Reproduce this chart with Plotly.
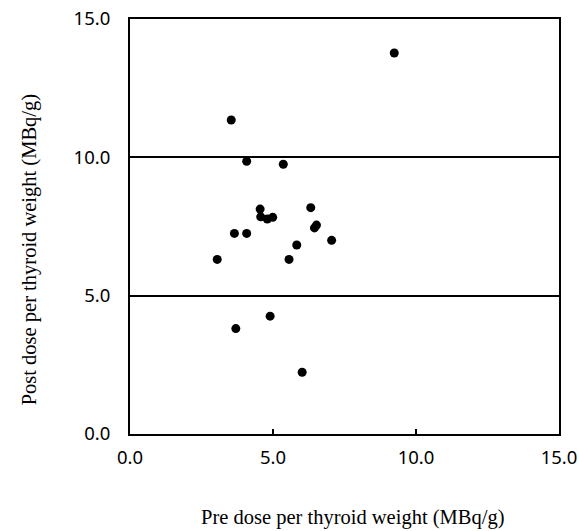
import plotly.graph_objects as go

# pre dose vs post dose per thyroid weight (MBq/g)
pre_dose = [3.54, 4.08, 5.36, 4.55, 4.57, 4.80, 4.99, 6.32, 6.45, 6.52,
            3.65, 4.08, 7.05, 5.83, 3.05, 5.56, 4.90, 3.70, 6.02, 9.24]
post_dose = [11.35, 9.86, 9.75, 8.13, 7.85, 7.77, 7.83, 8.18, 7.45, 7.55,
             7.25, 7.25, 7.00, 6.83, 6.31, 6.31, 4.26, 3.81, 2.23, 13.77]

tick_vals = [0, 5, 10, 15]
tick_text = ["0.0", "5.0", "10.0", "15.0"]

x_title = "Pre dose per thyroid weight (MBq/g)"
y_title = "Post dose per thyroid weight (MBq/g)"

tick_font = dict(family="Noto Sans", size=18.5, color="black")
title_font = dict(family="Liberation Serif", size=20.5, color="black")

fig = go.Figure()
fig.add_trace(go.Scatter(
    x=pre_dose, y=post_dose, mode="markers",
    marker=dict(color="black", size=9),
    showlegend=False,
))

fig.update_xaxes(
    range=[0, 15], tickvals=tick_vals, ticktext=tick_text,
    ticks="inside", ticklen=5, tickwidth=1.5, tickcolor="black",
    showline=True, linecolor="black", linewidth=2, mirror=True,
    showgrid=False, zeroline=False, tickfont=tick_font,
    ticklabelstandoff=6, automargin=False, ticklabeloverflow="allow",
)
fig.update_yaxes(
    range=[0, 15], tickvals=tick_vals, ticktext=tick_text,
    ticks="", showline=True, linecolor="black", linewidth=2, mirror=True,
    showgrid=True, gridcolor="black", gridwidth=1.5,
    zeroline=False, tickfont=tick_font, ticklabelstandoff=14,
    automargin=False, ticklabeloverflow="allow",
)

fig.add_annotation(text=x_title, xref="paper", yref="paper", x=0.518, y=-0.2,
                   showarrow=False, font=title_font, yanchor="middle")
fig.add_annotation(text=y_title, xref="paper", yref="paper", x=-0.235, y=0.443,
                   showarrow=False, font=title_font, textangle=-90,
                   xanchor="center", yanchor="middle")

fig.update_layout(
    width=579, height=531,
    margin=dict(l=130, r=20, t=19, b=97),
    plot_bgcolor="white", paper_bgcolor="white",
)

# drop the default body margin so the figure fills the window without scrollbars
fig.write_html("out.html", config={"displayModeBar": False},
               post_script="document.body.style.margin='0';document.body.style.overflow='hidden';")
